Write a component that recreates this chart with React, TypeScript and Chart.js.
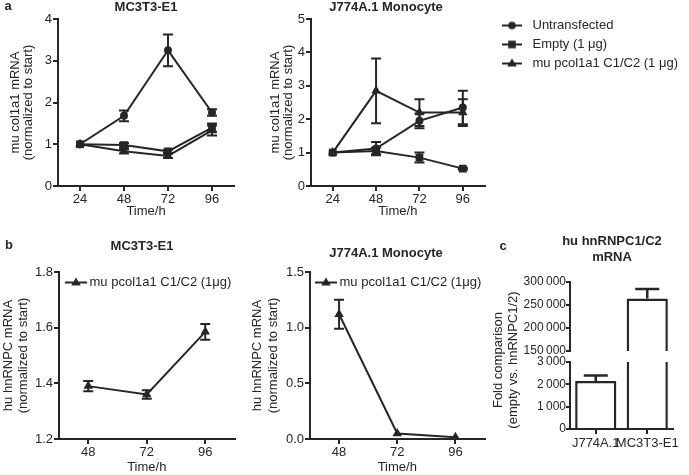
import React, { useEffect, useRef } from 'react';
import { Chart, registerables } from 'chart.js';

Chart.register(...registerables);

const FONT = '"Liberation Sans", Arial, Helvetica, sans-serif';
const INK = '#262626';

// ---------- Panel a: mu col1a1 mRNA ----------
const timesA = [24, 48, 72, 96];
const aXTicks = [24, 48, 72, 96];
const a1YTicks = [0, 1, 2, 3, 4];
const a2YTicks = [0, 1, 2, 3, 4, 5];
const legendLabelsA = ['Untransfected', 'Empty (1 \u03bcg)', 'mu pcol1a1 C1/C2 (1 \u03bcg)'];

const mc3t3Untransfected = [1.0, 1.68, 3.25, 1.76];
const mc3t3UntransfectedErr = [0, 0.13, 0.38, 0.08];
const mc3t3Empty = [1.0, 0.98, 0.83, 1.4];
const mc3t3EmptyErr = [0, 0.05, 0.04, 0.1];
const mc3t3Col = [1.0, 0.83, 0.72, 1.33];
const mc3t3ColErr = [0, 0.05, 0.05, 0.12];

const j774Untransfected = [1.0, 1.12, 1.95, 2.35];
const j774UntransfectedErr = [0, 0.2, 0.22, 0.5];
const j774Empty = [1.0, 1.05, 0.85, 0.52];
const j774EmptyErr = [0, 0.1, 0.15, 0.03];
const j774Col = [1.0, 2.85, 2.2, 2.2];
const j774ColErr = [0, 0.97, 0.4, 0.4];

// ---------- Panel b: hu hnRNPC mRNA ----------
const timesB = [48, 72, 96];
const bXTicks = [48, 72, 96];
const b1YTicks = [1.2, 1.4, 1.6, 1.8];
const b2YTicks = [0, 0.5, 1.0, 1.5];
const legendLabelB = 'mu pcol1a1 C1/C2 (1\u03bcg)';
const hnMC3T3 = [1.39, 1.36, 1.585];
const hnMC3T3Err = [0.018, 0.015, 0.028];
const hnJ774 = [1.12, 0.05, 0.015];
const hnJ774Err = [0.13, 0, 0];

// ---------- Panel c: fold comparison ----------
const cCategories = ['J774A.1', 'MC3T3-E1'];
const cValues = [2150, 264000];
const cErrors = [250, 21000];
const cTopTicks = [150000, 200000, 250000, 300000];
const cBottomTicks = [0, 1000, 2000, 3000];

const MARKER_RADIUS: any = { circle: 4, rect: 5.5, triangle: 5.5 };

const FRAMES: any = {
  a1: { left: 0, top: 0, w: 240, h: 222 },
  a2: { left: 240, top: 0, w: 250, h: 222 },
  aLeg: { left: 492, top: 13, w: 440, h: 80 },
  b1: { left: 0, top: 225, w: 240, h: 250 },
  b2: { left: 240, top: 225, w: 250, h: 250 },
  b1Leg: { left: 64, top: 271, w: 420, h: 30 },
  b2Leg: { left: 314, top: 271, w: 420, h: 30 },
  cTop: { left: 470, top: 225, w: 219, h: 250 },
  cBot: { left: 470, top: 225, w: 219, h: 250 },
};

function fmtThousands(v: number) {
  const s = String(Math.round(v));
  return s.replace(/\B(?=(\d{3})+(?!\d))/g, '\u2009');
}

function lineDataset(label: string, xs: number[], ys: number[], errs: number[], marker: string) {
  return {
    label,
    marker,
    data: xs.map((x, i) => ({ x, y: ys[i] })),
    errors: errs,
    borderColor: INK,
    backgroundColor: INK,
    borderWidth: 2,
    pointStyle: marker,
    pointRadius: MARKER_RADIUS[marker],
    pointBackgroundColor: INK,
    pointBorderColor: INK,
    pointBorderWidth: 0,
    tension: 0,
    clip: false,
  };
}

function axis(o: any) {
  const ticks: any = {
    color: INK,
    font: { size: o.tickSize || 13, family: FONT },
    padding: o.tickPadding == null ? 1 : o.tickPadding,
    autoSkip: false,
    maxRotation: 0,
    minRotation: 0,
  };
  if (o.format) ticks.callback = o.format;
  const cfg: any = {
    type: o.type || 'linear',
    display: o.display === undefined ? true : o.display,
    afterFit: (s: any) => {
      if (o.width != null) s.width = o.width;
      if (o.height != null) s.height = o.height;
    },
    grid: {
      display: true,
      drawOnChartArea: false,
      drawTicks: true,
      tickLength: o.tickLength || 5,
      color: INK,
      lineWidth: 2,
      offset: false,
    },
    border: { display: true, color: INK, width: 2 },
    ticks,
    title: o.title
      ? {
          display: true,
          text: o.title,
          color: INK,
          font: { size: 13, family: FONT, lineHeight: o.lineHeight || 1.1 },
          padding: o.titlePadding,
        }
      : { display: false },
  };
  if (o.min != null) cfg.min = o.min;
  if (o.max != null) cfg.max = o.max;
  if (o.ticks) {
    cfg.afterBuildTicks = (s: any) => {
      s.ticks = o.ticks.map((v: number) => ({ value: v }));
    };
  }
  return cfg;
}

const errorBarPlugin = {
  id: 'errorBars',
  afterDatasetsDraw(chart: any) {
    const { ctx, chartArea } = chart;
    ctx.save();
    ctx.beginPath();
    ctx.rect(chartArea.left - 20, chartArea.top - 1, chartArea.right - chartArea.left + 40, chartArea.bottom - chartArea.top + 2);
    ctx.clip();
    chart.data.datasets.forEach((ds: any, i: number) => {
      const errs = ds.errors;
      if (!errs) return;
      const meta = chart.getDatasetMeta(i);
      const yScale = chart.scales[meta.yAxisID];
      meta.data.forEach((el: any, j: number) => {
        const e = errs[j];
        if (!e) return;
        const raw = ds.data[j];
        const v = typeof raw === 'number' ? raw : raw.y;
        const yTop = yScale.getPixelForValue(v + e);
        const yBot = yScale.getPixelForValue(ds.errorUpOnly ? v : v - e);
        const x = el.x;
        const cap = ds.capHalfWidth || 5;
        ctx.strokeStyle = INK;
        ctx.lineWidth = ds.errorLineWidth || 2;
        ctx.beginPath();
        ctx.moveTo(x, yTop);
        ctx.lineTo(x, yBot);
        ctx.moveTo(x - cap, yTop);
        ctx.lineTo(x + cap, yTop);
        if (!ds.errorUpOnly) {
          ctx.moveTo(x - cap, yBot);
          ctx.lineTo(x + cap, yBot);
        }
        ctx.stroke();
      });
    });
    ctx.restore();
  },
};

function makeTextPlugin(items: any[]) {
  return {
    id: 'panelText',
    afterDraw(chart: any) {
      const ctx = chart.ctx;
      items.forEach((it) => {
        ctx.save();
        ctx.font = `${it.bold ? 'bold ' : ''}${it.size || 13}px ${FONT}`;
        ctx.fillStyle = INK;
        ctx.textAlign = it.align || 'center';
        ctx.textBaseline = 'middle';
        ctx.translate(it.x, it.y);
        if (it.rotate) ctx.rotate(it.rotate);
        ctx.fillText(it.text, 0, 0);
        ctx.restore();
      });
    },
  };
}

function makeIcon(style: string, w: number) {
  const c = document.createElement('canvas');
  c.width = w;
  c.height = 12;
  const g = c.getContext('2d') as CanvasRenderingContext2D;
  g.strokeStyle = INK;
  g.fillStyle = INK;
  g.lineWidth = 2;
  g.beginPath();
  g.moveTo(0, 6);
  g.lineTo(w, 6);
  g.stroke();
  const cx = w / 2;
  const cy = 6;
  if (style === 'circle') {
    g.beginPath();
    g.arc(cx, cy, 3.8, 0, Math.PI * 2);
    g.fill();
  } else if (style === 'rect') {
    g.fillRect(cx - 3.8, cy - 3.8, 7.6, 7.6);
  } else {
    g.beginPath();
    g.moveTo(cx, cy - 5);
    g.lineTo(cx + 4.8, cy + 3);
    g.lineTo(cx - 4.8, cy + 3);
    g.closePath();
    g.fill();
  }
  return c;
}

function legendChart(canvas: HTMLCanvasElement, labels: string[], markers: string[], iconW: number, boxW: number, pad: number) {
  const icons: any = {};
  markers.forEach((m) => {
    icons[m] = makeIcon(m, iconW);
  });
  return new Chart(canvas, {
    type: 'line',
    data: {
      datasets: labels.map((label, i) => ({ label, marker: markers[i], data: [], borderColor: INK, backgroundColor: INK })) as any,
    },
    options: {
      responsive: false,
      animation: false,
      events: [],
      layout: { padding: 0 },
      scales: { x: { display: false }, y: { display: false } },
      plugins: {
        tooltip: { enabled: false },
        legend: {
          position: 'left',
          align: 'start',
          labels: {
            usePointStyle: true,
            pointStyleWidth: boxW,
            padding: pad,
            color: INK,
            font: { size: 13, family: FONT },
            generateLabels: (chart: any) =>
              chart.data.datasets.map((ds: any, i: number) => ({
                text: ds.label,
                pointStyle: icons[ds.marker],
                fillStyle: INK,
                strokeStyle: INK,
                lineWidth: 0,
                hidden: false,
                datasetIndex: i,
                fontColor: INK,
              })),
          },
        },
      },
    } as any,
  });
}

function lineChart(canvas: HTMLCanvasElement, datasets: any[], padding: any, x: any, y: any, texts: any[]) {
  return new Chart(canvas, {
    type: 'line',
    data: { datasets },
    options: {
      responsive: false,
      animation: false,
      events: [],
      layout: { padding },
      scales: { x: axis(x), y: axis(y) },
      plugins: { legend: { display: false }, tooltip: { enabled: false } },
    } as any,
    plugins: [errorBarPlugin, makeTextPlugin(texts)],
  });
}

function barChart(canvas: HTMLCanvasElement, padding: any, x: any, y: any, texts: any[]) {
  return new Chart(canvas, {
    type: 'bar',
    data: {
      labels: cCategories,
      datasets: [
        {
          label: 'hu hnRNPC1/C2 mRNA',
          data: cValues,
          errors: cErrors,
          errorUpOnly: true,
          capHalfWidth: 12,
          errorLineWidth: 2.5,
          backgroundColor: '#ffffff',
          borderColor: INK,
          borderWidth: 2.5,
          borderSkipped: 'start',
          barPercentage: 0.8,
          categoryPercentage: 1,
          clip: 0,
        } as any,
      ],
    },
    options: {
      responsive: false,
      animation: false,
      events: [],
      layout: { padding },
      scales: { x: axis(x), y: axis(y) },
      plugins: { legend: { display: false }, tooltip: { enabled: false } },
    } as any,
    plugins: [errorBarPlugin, makeTextPlugin(texts)],
  });
}

export default function App() {
  const a1 = useRef<HTMLCanvasElement>(null);
  const a2 = useRef<HTMLCanvasElement>(null);
  const aLeg = useRef<HTMLCanvasElement>(null);
  const b1 = useRef<HTMLCanvasElement>(null);
  const b2 = useRef<HTMLCanvasElement>(null);
  const b1Leg = useRef<HTMLCanvasElement>(null);
  const b2Leg = useRef<HTMLCanvasElement>(null);
  const cTop = useRef<HTMLCanvasElement>(null);
  const cBot = useRef<HTMLCanvasElement>(null);

  useEffect(() => {
    const charts: Chart[] = [];
    const fmt1 = (v: number) => Number(v).toFixed(1);
    const fmtInt = (v: number) => String(v);

    charts.push(
      lineChart(
        a1.current!,
        [
          lineDataset(legendLabelsA[0], timesA, mc3t3Untransfected, mc3t3UntransfectedErr, 'circle'),
          lineDataset(legendLabelsA[1], timesA, mc3t3Empty, mc3t3EmptyErr, 'rect'),
          lineDataset(legendLabelsA[2], timesA, mc3t3Col, mc3t3ColErr, 'triangle'),
        ],
        { left: 0, top: 19, right: 6, bottom: 0 },
        { min: 12, max: 108, ticks: aXTicks, height: 36, title: 'Time/h', titlePadding: { top: 0, bottom: 3 }, format: fmtInt },
        { min: 0, max: 4, ticks: a1YTicks, width: 58, title: ['mu col1a1 mRNA', '(normalized to start)'], lineHeight: 1.0, titlePadding: { top: 8.5, bottom: 0 }, format: fmtInt },
        [
          { text: 'a', x: 8, y: 6, bold: true },
          { text: 'MC3T3-E1', x: 146, y: 7, bold: true },
        ]
      )
    );

    charts.push(
      lineChart(
        a2.current!,
        [
          lineDataset(legendLabelsA[0], timesA, j774Untransfected, j774UntransfectedErr, 'circle'),
          lineDataset(legendLabelsA[1], timesA, j774Empty, j774EmptyErr, 'rect'),
          lineDataset(legendLabelsA[2], timesA, j774Col, j774ColErr, 'triangle'),
        ],
        { left: 0, top: 19, right: 2, bottom: 0 },
        { min: 12, max: 108, ticks: aXTicks, height: 36, title: 'Time/h', titlePadding: { top: 0, bottom: 3 }, format: fmtInt },
        { min: 0, max: 5, ticks: a2YTicks, width: 71, title: ['mu col1a1 mRNA', '(normalized to start)'], lineHeight: 1.0, titlePadding: { top: 28.5, bottom: 0 }, format: fmtInt },
        [{ text: 'J774A.1 Monocyte', x: 146, y: 7, bold: true }]
      )
    );

    charts.push(legendChart(aLeg.current!, legendLabelsA, ['circle', 'rect', 'triangle'], 20, 28, 6));

    charts.push(
      lineChart(
        b1.current!,
        [lineDataset(legendLabelB, timesB, hnMC3T3, hnMC3T3Err, 'triangle')],
        { left: 0, top: 47, right: 5, bottom: 0 },
        { min: 36, max: 108, ticks: bXTicks, height: 36, title: 'Time/h', titlePadding: { top: 0, bottom: 0 }, format: fmtInt },
        { min: 1.2, max: 1.8, ticks: b1YTicks, width: 59, title: ['hu hnRNPC mRNA', '(normalized to start)'], lineHeight: 1.2, titlePadding: { top: 0.5, bottom: 0 }, format: fmt1 },
        [
          { text: 'b', x: 9, y: 20, bold: true },
          { text: 'MC3T3-E1', x: 142, y: 21, bold: true },
        ]
      )
    );

    charts.push(
      lineChart(
        b2.current!,
        [lineDataset(legendLabelB, timesB, hnJ774, hnJ774Err, 'triangle')],
        { left: 0, top: 47, right: 1, bottom: 0 },
        { min: 36, max: 108, ticks: bXTicks, height: 36, title: 'Time/h', titlePadding: { top: 0, bottom: 0 }, format: fmtInt },
        { min: 0, max: 1.5, ticks: b2YTicks, width: 70, title: ['hu hnRNPC mRNA', '(normalized to start)'], lineHeight: 1.2, titlePadding: { top: 10, bottom: 0 }, format: fmt1 },
        [{ text: 'J774A.1 Monocyte', x: 146, y: 28, bold: true }]
      )
    );

    charts.push(legendChart(b1Leg.current!, [legendLabelB], ['triangle'], 22, 14, 5));
    charts.push(legendChart(b2Leg.current!, [legendLabelB], ['triangle'], 22, 14, 5));

    charts.push(
      barChart(
        cTop.current!,
        { left: 0, top: 57, right: 16, bottom: 124 },
        { type: 'category', display: false },
        { min: 150000, max: 300000, ticks: cTopTicks, width: 100, tickLength: 4, tickPadding: 0, tickSize: 12, format: fmtThousands },
        [
          { text: 'c', x: 33, y: 21, bold: true },
          { text: 'hu hnRNPC1/C2', x: 142, y: 16, bold: true },
          { text: 'mRNA', x: 142, y: 32, bold: true },
        ]
      )
    );

    charts.push(
      barChart(
        cBot.current!,
        { left: 0, top: 137, right: 16, bottom: 0 },
        { type: 'category', height: 46, tickPadding: 2 },
        { min: 0, max: 3000, ticks: cBottomTicks, width: 100, tickLength: 4, tickPadding: 0, tickSize: 12, format: fmtThousands },
        [
          { text: 'Fold comparison', x: 28, y: 135, rotate: -Math.PI / 2 },
          { text: '(empty vs. hnRNPC1/2)', x: 43, y: 135, rotate: -Math.PI / 2 },
        ]
      )
    );

    return () => charts.forEach((c) => c.destroy());
  }, []);

  const cv = (ref: any, f: any) => (
    <canvas
      ref={ref}
      width={f.w}
      height={f.h}
      style={{ position: 'absolute', left: f.left, top: f.top, width: f.w, height: f.h }}
    />
  );

  return (
    <div style={{ position: 'absolute', left: 0, top: 0, width: 689, height: 475, background: '#ffffff', overflow: 'hidden' }}>
      {cv(a1, FRAMES.a1)}
      {cv(a2, FRAMES.a2)}
      {cv(b1, FRAMES.b1)}
      {cv(b2, FRAMES.b2)}
      {cv(cTop, FRAMES.cTop)}
      {cv(cBot, FRAMES.cBot)}
      {cv(aLeg, FRAMES.aLeg)}
      {cv(b1Leg, FRAMES.b1Leg)}
      {cv(b2Leg, FRAMES.b2Leg)}
    </div>
  );
}
